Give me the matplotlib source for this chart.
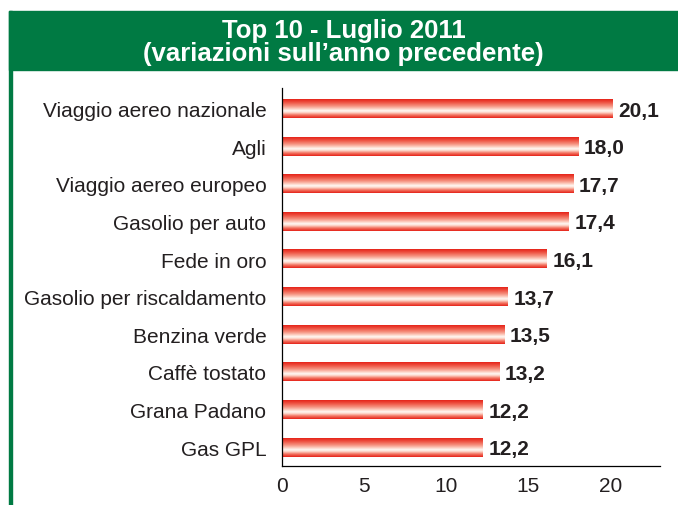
import numpy as np
import matplotlib
matplotlib.use("Agg")
import matplotlib.pyplot as plt
from matplotlib.colors import LinearSegmentedColormap
from matplotlib.patches import Rectangle

categories = ["Viaggio aereo nazionale", "Agli", "Viaggio aereo europeo",
              "Gasolio per auto", "Fede in oro", "Gasolio per riscaldamento",
              "Benzina verde", "Caffè tostato", "Grana Padano", "Gas GPL"]
values = [20.1, 18.0, 17.7, 17.4, 16.1, 13.7, 13.5, 13.2, 12.2, 12.2]
xticks = [0, 5, 10, 15, 20]
title = "Top 10 - Luglio 2011\n(variazioni sull\u2019anno precedente)"

plt.rcParams['font.family'] = ['Liberation Sans', 'DejaVu Sans']
TXT = '#231F20'
GREEN = '#007A43'

W, H = 678, 506
fig = plt.figure(figsize=(W / 100, H / 100), dpi=100)

# header band and left green line
fig.patches.append(Rectangle((9 / W, 1 - 70.7 / H), 1 - 9 / W, (70.7 - 12) / H,
                             transform=fig.transFigure, color=GREEN, zorder=0))
fig.patches.append(Rectangle((9 / W, 0), 3 / W, 1 - 12 / H,
                             transform=fig.transFigure, color=GREEN, zorder=0))
fig.text((9 + W) / 2 / W, 1 - 42.5 / H, title, ha='center', va='center',
         color='white', fontsize=18.5, fontweight='bold', linespacing=0.95)

ax = fig.add_axes([281.7 / W, 1 - 467.3 / H, (660 - 281.7) / W, (467.3 - 89.3) / H])

cmap = LinearSegmentedColormap.from_list('bar', [
    (0.00, (0.90, 0.14, 0.10)),
    (0.15, (0.93, 0.30, 0.24)),
    (0.35, (0.96, 0.55, 0.48)),
    (0.52, (0.99, 0.82, 0.77)),
    (0.62, (1.00, 0.98, 0.96)),
    (0.72, (0.99, 0.82, 0.77)),
    (0.85, (0.95, 0.45, 0.38)),
    (1.00, (0.90, 0.14, 0.10)),
])
grad = np.linspace(0, 1, 64).reshape(-1, 1)
h = 0.5
for i, v in enumerate(values):
    ax.imshow(grad, cmap=cmap, aspect='auto', interpolation='bilinear',
              extent=[0, v, i + h / 2, i - h / 2], origin='upper', zorder=2)
    ax.annotate(f"{v:.1f}".replace('.', ','), xy=(v, i + 0.04),
                xytext=(4.5, 0), textcoords='offset points',
                ha='left', va='center', fontsize=15, fontweight='bold',
                color=TXT, zorder=3)

ax.set_xlim(0, 23)
ax.set_ylim(9.51, -0.54)
ax.set_yticks(range(len(categories)))
ax.set_yticklabels(categories)
ax.set_xticks(xticks)
ax.set_xticklabels([str(x) for x in xticks])
ax.tick_params(axis='both', length=0, labelsize=15, labelcolor=TXT)
ax.tick_params(axis='y', pad=11)
ax.tick_params(axis='x', pad=7)
for s in ['top', 'right']:
    ax.spines[s].set_visible(False)
for s in ['left', 'bottom']:
    ax.spines[s].set_color('black')
    ax.spines[s].set_linewidth(0.9)

fig.savefig('out.png', dpi=100)
